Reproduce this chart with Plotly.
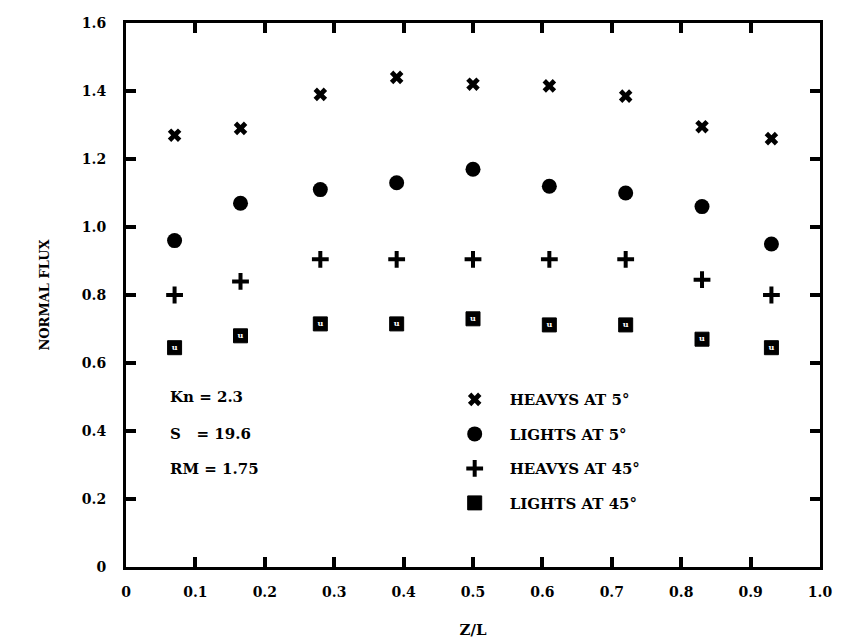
import plotly.graph_objects as go

# Axial position along the cylinder, Z/L
z_over_l = [0.07, 0.165, 0.28, 0.39, 0.50, 0.61, 0.72, 0.83, 0.93]

# Normal flux for each species / incidence angle
heavys_5 = [1.27, 1.29, 1.39, 1.44, 1.42, 1.415, 1.385, 1.295, 1.26]
lights_5 = [0.96, 1.07, 1.11, 1.13, 1.17, 1.12, 1.10, 1.06, 0.95]
heavys_45 = [0.80, 0.84, 0.905, 0.905, 0.905, 0.905, 0.905, 0.845, 0.80]
lights_45 = [0.645, 0.68, 0.715, 0.715, 0.73, 0.712, 0.712, 0.67, 0.645]

x_ticks = [0, 0.1, 0.2, 0.3, 0.4, 0.5, 0.6, 0.7, 0.8, 0.9, 1.0]
x_tick_text = ["0", "0.1", "0.2", "0.3", "0.4", "0.5", "0.6", "0.7", "0.8", "0.9", "1.0"]
y_ticks = [0, 0.2, 0.4, 0.6, 0.8, 1.0, 1.2, 1.4, 1.6]
y_tick_text = ["0", "0.2", "0.4", "0.6", "0.8", "1.0", "1.2", "1.4", "1.6"]

run_params = ["Kn = 2.3", "S\u00a0\u00a0\u00a0= 19.6", "RM = 1.75"]
run_param_y = [0.50, 0.392, 0.288]

FONT = "DejaVu Serif"
INK = "black"

fig = go.Figure()

fig.add_trace(go.Scatter(
    x=z_over_l, y=heavys_5, mode="markers", name="HEAVYS AT 5°",
    legendgroup="a",
    marker=dict(symbol="x", size=12, color=INK, line=dict(width=0)),
))
fig.add_trace(go.Scatter(
    x=z_over_l, y=lights_5, mode="markers", name="LIGHTS AT 5°",
    legendgroup="b",
    marker=dict(symbol="circle", size=15, color=INK, line=dict(width=0)),
))
fig.add_trace(go.Scatter(
    x=z_over_l, y=heavys_45, mode="markers", name="HEAVYS AT 45°",
    legendgroup="c",
    marker=dict(symbol="cross-thin", size=12, color=INK, line=dict(width=4, color=INK)),
))
fig.add_trace(go.Scatter(
    x=z_over_l, y=lights_45, mode="markers", name="LIGHTS AT 45°",
    legendgroup="d",
    marker=dict(symbol="square", size=14, color=INK, line=dict(width=1, color=INK)),
))
# small white glyph inside each square symbol
fig.add_trace(go.Scatter(
    x=z_over_l, y=lights_45, mode="text", text=["u"] * len(z_over_l),
    textposition="middle center", showlegend=False, hoverinfo="skip",
    textfont=dict(family=FONT, size=8, color="white", weight="bold"),
))

for label, yv in zip(run_params, run_param_y):
    fig.add_annotation(
        x=0.06, y=yv, xref="x", yref="y", text=label, showarrow=False,
        xanchor="left", yanchor="middle",
        font=dict(family=FONT, size=15, color=INK, weight="bold"),
    )

axis_common = dict(
    showline=True, linewidth=3, linecolor=INK, mirror="ticks",
    ticks="inside", ticklen=10, tickwidth=3.5, tickcolor=INK,
    showgrid=False, zeroline=False, automargin=False,
    tickfont=dict(family=FONT, size=14, color=INK, weight="bold"),
)

fig.update_xaxes(
    range=[0, 1.0], tickmode="array", tickvals=x_ticks, ticktext=x_tick_text,
    ticklabelstandoff=10,
    title=dict(text="Z/L", font=dict(family=FONT, size=15, color=INK, weight="bold"), standoff=26),
    **axis_common,
)
fig.update_yaxes(
    range=[0, 1.6], tickmode="array", tickvals=y_ticks, ticktext=y_tick_text,
    ticklabelstandoff=14,
    title=dict(text="NORMAL FLUX", font=dict(family=FONT, size=13, color=INK, weight="bold"), standoff=30),
    **axis_common,
)

fig.update_layout(
    width=841, height=642,
    margin=dict(l=126, r=21, t=23, b=75),
    paper_bgcolor="white", plot_bgcolor="white",
    showlegend=True,
    legend=dict(
        x=0.452, y=0.338, xanchor="left", yanchor="top",
        bgcolor="rgba(0,0,0,0)", borderwidth=0,
        itemwidth=60, traceorder="grouped", tracegroupgap=12,
        font=dict(family=FONT, size=15, color=INK, weight="bold"),
    ),
)

fig.write_html("out.html")
